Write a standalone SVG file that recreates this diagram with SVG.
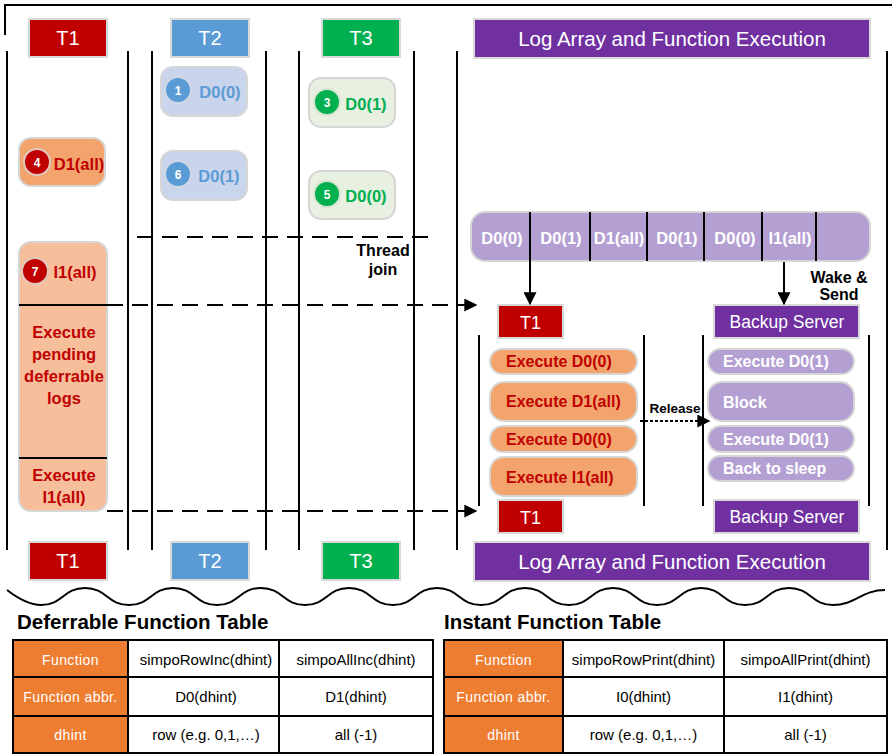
<svg xmlns="http://www.w3.org/2000/svg" width="892" height="755" viewBox="0 0 892 755">
  <defs>
    <style>
      .hdr { stroke: #D9D9D9; stroke-width: 2; }
      .hdrtxt { font-family: "Liberation Sans", Arial, sans-serif; fill: #fff; text-anchor: middle; }
      .ln { stroke: #000; stroke-width: 2; fill: none; }
      .dash { stroke: #000; stroke-width: 2; fill: none; stroke-dasharray: 16 9; }
      .pill { stroke: #D6D6D6; stroke-width: 2; }
      .b { font-family: "Liberation Sans", Arial, sans-serif; font-weight: bold; }
      .num { font-family: "Liberation Sans", Arial, sans-serif; font-weight: bold; font-size: 12px; fill: #fff; text-anchor: middle; }
      .cell { fill: #fff; stroke: #000; stroke-width: 2; }
      .hcell { fill: #ED7D31; stroke: #000; stroke-width: 2; }
      .ct { font-family: "Liberation Sans", Arial, sans-serif; font-size: 15px; fill: #000; text-anchor: middle; }
      .ht { font-family: "Liberation Sans", Arial, sans-serif; font-size: 14px; fill: #fff; text-anchor: middle; letter-spacing: 0.4px; }
    </style>
    <marker id="arrow" viewBox="0 0 10 10" refX="9" refY="5" markerWidth="6.5" markerHeight="6.5" orient="auto" markerUnits="strokeWidth">
      <path d="M0,0 L10,5 L0,10 z" fill="#000"/>
    </marker>
  </defs>

  <rect width="892" height="755" fill="#fff"/>

  <!-- frame corner -->
  <path class="ln" d="M5,35 V5 H892"/>

  <!-- lane separators -->
  <g id="lanes">
    <line class="ln" x1="7" y1="51" x2="7" y2="550"/>
    <line class="ln" x1="128" y1="51" x2="128" y2="550"/>
    <line class="ln" x1="152" y1="51" x2="152" y2="550"/>
    <line class="ln" x1="266" y1="51" x2="266" y2="550"/>
    <line class="ln" x1="299" y1="51" x2="299" y2="550"/>
    <line class="ln" x1="414" y1="51" x2="414" y2="550"/>
    <line class="ln" x1="457" y1="51" x2="457" y2="550"/>
    <line class="ln" x1="887" y1="51" x2="887" y2="550"/>
    <line class="ln" x1="479" y1="335" x2="479" y2="506"/>
    <line class="ln" x1="644" y1="335" x2="644" y2="506"/>
    <line class="ln" x1="703" y1="335" x2="703" y2="506"/>
    <line class="ln" x1="869" y1="335" x2="869" y2="506"/>
  </g>

  <!-- top headers -->
  <g id="hdr-t1-top"><rect class="hdr" x="29" y="19" width="78" height="38" fill="#C00000"/><text class="hdrtxt" x="68" y="45" font-size="20">T1</text></g>
  <g id="hdr-t2-top"><rect class="hdr" x="171" y="19" width="78" height="38" fill="#5B9BD5"/><text class="hdrtxt" x="210" y="45" font-size="20">T2</text></g>
  <g id="hdr-t3-top"><rect class="hdr" x="322" y="19" width="78" height="38" fill="#00B050"/><text class="hdrtxt" x="361" y="45" font-size="20">T3</text></g>
  <g id="hdr-log-top"><rect class="hdr" x="474" y="19" width="396" height="39" fill="#7030A0"/><text class="hdrtxt" x="672" y="46" font-size="20.5">Log Array and Function Execution</text></g>

  <!-- bottom headers -->
  <g id="hdr-t1-bot"><rect class="hdr" x="29" y="542" width="78" height="38" fill="#C00000"/><text class="hdrtxt" x="68" y="568" font-size="20">T1</text></g>
  <g id="hdr-t2-bot"><rect class="hdr" x="171" y="542" width="78" height="38" fill="#5B9BD5"/><text class="hdrtxt" x="210" y="568" font-size="20">T2</text></g>
  <g id="hdr-t3-bot"><rect class="hdr" x="322" y="542" width="78" height="38" fill="#00B050"/><text class="hdrtxt" x="361" y="568" font-size="20">T3</text></g>
  <g id="hdr-log-bot"><rect class="hdr" x="474" y="542" width="396" height="39" fill="#7030A0"/><text class="hdrtxt" x="672" y="569" font-size="20.5">Log Array and Function Execution</text></g>

  <!-- T2 calls -->
  <g id="t2-d00">
    <rect class="pill" x="161" y="67" width="86" height="49" rx="12" fill="#C9D5EC"/>
    <circle cx="178" cy="90" r="13" fill="#5B9BD5" stroke="#D0D8E6" stroke-width="2"/>
    <text class="num" x="178" y="94.5">1</text>
    <text class="b" x="220" y="98" font-size="16.5" fill="#5B9BD5" text-anchor="middle">D0(0)</text>
  </g>
  <g id="t2-d01">
    <rect class="pill" x="161" y="151" width="86" height="49" rx="12" fill="#C9D5EC"/>
    <circle cx="178" cy="174" r="13" fill="#5B9BD5" stroke="#D0D8E6" stroke-width="2"/>
    <text class="num" x="178" y="178.5">6</text>
    <text class="b" x="219" y="182" font-size="16.5" fill="#5B9BD5" text-anchor="middle">D0(1)</text>
  </g>

  <!-- T3 calls -->
  <g id="t3-d01">
    <rect class="pill" x="309" y="78" width="86" height="49" rx="12" fill="#E7F0E1"/>
    <circle cx="327" cy="102" r="13" fill="#00B050" stroke="#D6E4D0" stroke-width="2"/>
    <text class="num" x="327" y="106.5">3</text>
    <text class="b" x="366" y="110" font-size="16.5" fill="#00B050" text-anchor="middle">D0(1)</text>
  </g>
  <g id="t3-d00">
    <rect class="pill" x="309" y="171" width="86" height="48" rx="12" fill="#E7F0E1"/>
    <circle cx="327" cy="194" r="13" fill="#00B050" stroke="#D6E4D0" stroke-width="2"/>
    <text class="num" x="327" y="198.5">5</text>
    <text class="b" x="366" y="202" font-size="16.5" fill="#00B050" text-anchor="middle">D0(0)</text>
  </g>

  <!-- T1 calls -->
  <g id="t1-d1all">
    <rect class="pill" x="19" y="138" width="86" height="48" rx="12" fill="#F3A46C"/>
    <circle cx="37" cy="162" r="13" fill="#C00000" stroke="#E0C8C0" stroke-width="2"/>
    <text class="num" x="37" y="166.5">4</text>
    <text class="b" x="79" y="170" font-size="16.5" fill="#C00000" text-anchor="middle">D1(all)</text>
  </g>
  <g id="t1-i1all">
    <rect class="pill" x="19" y="242" width="88" height="269" rx="12" fill="#F6BE9A"/>
    <line class="ln" x1="19" y1="305" x2="107" y2="305"/>
    <line class="ln" x1="19" y1="458" x2="107" y2="458"/>
    <circle cx="35" cy="271" r="13" fill="#C00000" stroke="#E0C8C0" stroke-width="2"/>
    <text class="num" x="35" y="275.5">7</text>
    <text class="b" x="75" y="278" font-size="16.5" fill="#C00000" text-anchor="middle">I1(all)</text>
    <g class="b" font-size="16.5" fill="#C00000" text-anchor="middle">
      <text x="64" y="338">Execute</text>
      <text x="64" y="360">pending</text>
      <text x="64" y="382">deferrable</text>
      <text x="64" y="404">logs</text>
      <text x="64" y="481">Execute</text>
      <text x="64" y="503">I1(all)</text>
    </g>
  </g>

  <!-- log array -->
  <g id="log-array">
    <rect class="pill" x="471" y="212" width="399" height="49" rx="14" fill="#B49FD3"/>
    <g class="ln">
      <line x1="530" y1="212" x2="530" y2="261"/>
      <line x1="590" y1="212" x2="590" y2="261"/>
      <line x1="647" y1="212" x2="647" y2="261"/>
      <line x1="704" y1="212" x2="704" y2="261"/>
      <line x1="762" y1="212" x2="762" y2="261"/>
      <line x1="816" y1="212" x2="816" y2="261"/>
    </g>
    <g class="b" font-size="16.5" fill="#fff" text-anchor="middle">
      <text x="502" y="244">D0(0)</text>
      <text x="561" y="244">D0(1)</text>
      <text x="619" y="244">D1(all)</text>
      <text x="677" y="244">D0(1)</text>
      <text x="735" y="244">D0(0)</text>
      <text x="790" y="244">I1(all)</text>
    </g>
  </g>

  <!-- executor boxes -->
  <g id="exec-t1-top"><rect class="hdr" x="498" y="305" width="65" height="33" fill="#C00000"/><text class="hdrtxt" x="530.5" y="329" font-size="18">T1</text></g>
  <g id="exec-t1-bot"><rect class="hdr" x="498" y="500" width="65" height="33" fill="#C00000"/><text class="hdrtxt" x="530.5" y="524" font-size="18">T1</text></g>
  <g id="backup-top"><rect class="hdr" x="714" y="305" width="145" height="33" fill="#7030A0"/><text class="hdrtxt" x="787" y="328" font-size="17.5">Backup Server</text></g>
  <g id="backup-bot"><rect class="hdr" x="714" y="500" width="145" height="33" fill="#7030A0"/><text class="hdrtxt" x="787" y="523" font-size="17.5">Backup Server</text></g>

  <g id="t1-exec" class="b" font-size="16" fill="#C00000">
    <rect class="pill" x="490" y="349" width="147" height="25" rx="12.5" fill="#F3A46C"/>
    <rect class="pill" x="490" y="382" width="147" height="39" rx="14" fill="#F3A46C"/>
    <rect class="pill" x="490" y="426" width="147" height="26" rx="13" fill="#F3A46C"/>
    <rect class="pill" x="490" y="457" width="147" height="39" rx="14" fill="#F3A46C"/>
    <text x="506" y="367">Execute D0(0)</text>
    <text x="506" y="407">Execute D1(all)</text>
    <text x="506" y="445">Execute D0(0)</text>
    <text x="506" y="483">Execute I1(all)</text>
  </g>

  <g id="backup-exec" class="b" font-size="16" fill="#fff">
    <rect class="pill" x="708" y="349" width="146" height="25" rx="12.5" fill="#B49FD3"/>
    <rect class="pill" x="708" y="382" width="146" height="39" rx="14" fill="#B49FD3"/>
    <rect class="pill" x="708" y="426" width="146" height="26" rx="13" fill="#B49FD3"/>
    <rect class="pill" x="708" y="456" width="146" height="25" rx="12.5" fill="#B49FD3"/>
    <text x="723" y="367">Execute D0(1)</text>
    <text x="723" y="408">Block</text>
    <text x="723" y="445">Execute D0(1)</text>
    <text x="723" y="474">Back to sleep</text>
  </g>

  <!-- connectors -->
  <g id="connectors">
    <line class="dash" x1="137" y1="237" x2="434" y2="237"/>
    <line class="dash" x1="107" y1="305" x2="476" y2="305" marker-end="url(#arrow)"/>
    <line class="dash" x1="107" y1="511" x2="476" y2="511" marker-end="url(#arrow)"/>
    <line class="ln" x1="530" y1="261" x2="530" y2="304" marker-end="url(#arrow)"/>
    <line class="ln" x1="784" y1="262" x2="784" y2="304" marker-end="url(#arrow)"/>
    <line x1="640" y1="421" x2="709" y2="421" stroke="#000" stroke-width="2" stroke-dasharray="3 2" marker-end="url(#arrow)"/>
  </g>

  <!-- labels -->
  <g class="b" font-size="16" fill="#000" text-anchor="middle">
    <text x="383" y="256">Thread</text>
    <text x="383" y="275">join</text>
    <text x="839" y="283">Wake &amp;</text>
    <text x="839" y="300">Send</text>
  </g>
  <text class="b" x="675" y="413" font-size="13.5" fill="#000" text-anchor="middle">Release</text>

  <!-- break line -->
  <path class="ln" d="M7,590 C20,600 30,605 41,605 C63,605 63,588 85,588 C107,588 107,605 129,605 C151,605 151,588 173,588 C195,588 195,605 217,605 C239,605 239,588 261,588 C283,588 283,605 305,605 C327,605 327,588 349,588 C371,588 371,605 393,605 C415,605 415,588 437,588 C459,588 459,605 481,605 C503,605 503,588 525,588 C547,588 547,605 569,605 C591,605 591,588 613,588 C635,588 635,605 657,605 C679,605 679,588 701,588 C723,588 723,605 745,605 C767,605 767,588 789,588 C811,588 811,605 833,605 C855,605 862,590 885,590"/>

  <!-- deferrable table -->
  <g id="deferrable-table">
    <text class="b" x="17" y="629" font-size="20.5" fill="#000">Deferrable Function Table</text>
    <rect class="hcell" x="13" y="640" width="115" height="37"/>
    <rect class="hcell" x="13" y="677" width="115" height="39"/>
    <rect class="hcell" x="13" y="716" width="115" height="37"/>
    <rect class="cell" x="128" y="640" width="151" height="37"/>
    <rect class="cell" x="128" y="677" width="151" height="39"/>
    <rect class="cell" x="128" y="716" width="151" height="37"/>
    <rect class="cell" x="279" y="640" width="154" height="37"/>
    <rect class="cell" x="279" y="677" width="154" height="39"/>
    <rect class="cell" x="279" y="716" width="154" height="37"/>
    <text class="ht" x="70.5" y="665">Function</text>
    <text class="ht" x="70.5" y="702">Function abbr.</text>
    <text class="ht" x="70.5" y="740">dhint</text>
    <text class="ct" x="206" y="665">simpoRowInc(dhint)</text>
    <text class="ct" x="206" y="702">D0(dhint)</text>
    <text class="ct" x="206" y="740">row (e.g. 0,1,…)</text>
    <text class="ct" x="356" y="665">simpoAllInc(dhint)</text>
    <text class="ct" x="356" y="702">D1(dhint)</text>
    <text class="ct" x="356" y="740">all (-1)</text>
  </g>

  <!-- instant table -->
  <g id="instant-table">
    <text class="b" x="444" y="629" font-size="20.5" fill="#000">Instant Function Table</text>
    <rect class="hcell" x="444" y="640" width="119" height="37"/>
    <rect class="hcell" x="444" y="677" width="119" height="39"/>
    <rect class="hcell" x="444" y="716" width="119" height="37"/>
    <rect class="cell" x="563" y="640" width="161" height="37"/>
    <rect class="cell" x="563" y="677" width="161" height="39"/>
    <rect class="cell" x="563" y="716" width="161" height="37"/>
    <rect class="cell" x="724" y="640" width="163" height="37"/>
    <rect class="cell" x="724" y="677" width="163" height="39"/>
    <rect class="cell" x="724" y="716" width="163" height="37"/>
    <text class="ht" x="503.5" y="665">Function</text>
    <text class="ht" x="503.5" y="702">Function abbr.</text>
    <text class="ht" x="503.5" y="740">dhint</text>
    <text class="ct" x="643.5" y="665">simpoRowPrint(dhint)</text>
    <text class="ct" x="643.5" y="702">I0(dhint)</text>
    <text class="ct" x="643.5" y="740">row (e.g. 0,1,…)</text>
    <text class="ct" x="805.5" y="665">simpoAllPrint(dhint)</text>
    <text class="ct" x="805.5" y="702">I1(dhint)</text>
    <text class="ct" x="805.5" y="740">all (-1)</text>
  </g>
</svg>
